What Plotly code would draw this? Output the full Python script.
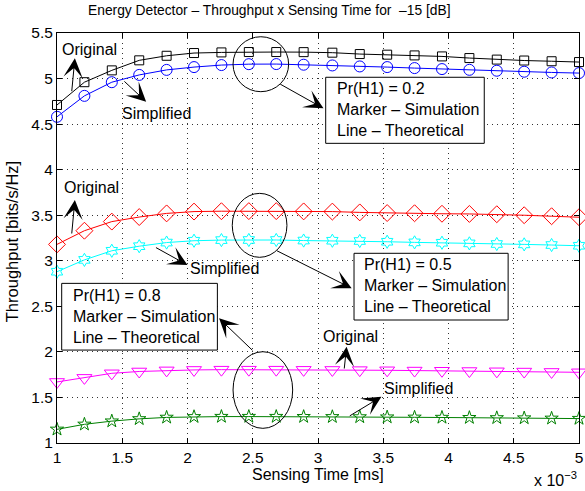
import plotly.graph_objects as go

# ---------------- data ----------------
sensing_time = [0.00100, 0.00121, 0.00142, 0.00163, 0.00184, 0.00205, 0.00226, 0.00247, 0.00268, 0.00289,
                0.00311, 0.00332, 0.00353, 0.00374, 0.00395, 0.00416, 0.00437, 0.00458, 0.00479, 0.00500]

orig_02 = [4.71, 4.96, 5.09, 5.20, 5.25, 5.28, 5.287, 5.291, 5.291, 5.290,
           5.284, 5.269, 5.262, 5.254, 5.243, 5.225, 5.208, 5.198, 5.190, 5.181]
simp_02 = [4.58, 4.81, 4.96, 5.04, 5.095, 5.126, 5.148, 5.158, 5.159, 5.152,
           5.144, 5.133, 5.126, 5.115, 5.104, 5.096, 5.086, 5.075, 5.067, 5.060]
orig_05 = [3.18, 3.33, 3.43, 3.48, 3.52, 3.54, 3.544, 3.545, 3.545, 3.542,
           3.540, 3.531, 3.524, 3.522, 3.516, 3.514, 3.511, 3.500, 3.489, 3.478]
simp_05 = [2.88, 3.01, 3.11, 3.16, 3.20, 3.22, 3.227, 3.228, 3.228, 3.222,
           3.220, 3.217, 3.209, 3.202, 3.198, 3.191, 3.184, 3.180, 3.173, 3.165]
orig_08 = [1.67, 1.715, 1.765, 1.785, 1.797, 1.802, 1.805, 1.805, 1.805, 1.803,
           1.802, 1.800, 1.798, 1.795, 1.793, 1.790, 1.787, 1.784, 1.780, 1.776]
simp_08 = [1.15, 1.205, 1.24, 1.265, 1.281, 1.288, 1.290, 1.290, 1.290, 1.289,
           1.288, 1.286, 1.284, 1.282, 1.280, 1.278, 1.276, 1.274, 1.271, 1.268]

x_tickvals = [0.001, 0.0015, 0.002, 0.0025, 0.003, 0.0035, 0.004, 0.0045, 0.005]
x_ticktext = ["1", "1.5", "2", "2.5", "3", "3.5", "4", "4.5", "5"]
y_tickvals = [1, 1.5, 2, 2.5, 3, 3.5, 4, 4.5, 5, 5.5]
y_ticktext = ["1", "1.5", "2", "2.5", "3", "3.5", "4", "4.5", "5", "5.5"]

series = [
    (orig_02, "#000000", "square-open", 9),
    (simp_02, "#0000ff", "circle-open", 11),
    (orig_05, "#ff0000", "diamond-open", 13),
    (simp_05, "#00ffff", "hexagram-open", 10),
    (orig_08, "#ff00ff", "triangle-down-open", 13),
    (simp_08, "#008000", "star-open", 10),
]

FONT = "Liberation Sans, Arial, Helvetica, sans-serif"

fig = go.Figure()
for ys, col, sym, sz in series:
    fig.add_trace(go.Scatter(
        x=sensing_time, y=ys, mode="lines+markers",
        line=dict(color=col, width=1),
        marker=dict(symbol=sym, size=sz, color=col, line=dict(color=col, width=1)),
        cliponaxis=False, showlegend=False,
    ))

ms = 1e-3
shapes = []
# circles
for (x0, x1, y0, y1) in [(2.349, 2.775, 4.856, 5.459), (2.343, 2.762, 3.038, 3.74), (2.349, 2.806, 1.161, 2.002)]:
    shapes.append(dict(type="circle", xref="x", yref="y", x0=x0 * ms, x1=x1 * ms, y0=y0, y1=y1,
                       line=dict(color="black", width=1)))
# boxes
for (x0, x1, y0, y1) in [(3.059, 4.274, 4.289, 5.014), (3.276, 4.457, 2.35, 3.082), (1.036, 2.229, 2.02, 2.752)]:
    shapes.append(dict(type="rect", xref="x", yref="y", x0=x0 * ms, x1=x1 * ms, y0=y0, y1=y1,
                       line=dict(color="black", width=1), fillcolor="white", layer="above"))

annotations = []
# arrows (tail -> head)
arrows = [((1.112, 4.845), (1.137, 5.222)),
          ((1.505, 4.984), (1.683, 4.746)),
          ((2.699, 4.948), (3.042, 4.673)),
          ((1.112, 3.283), (1.137, 3.667)),
          ((1.747, 3.154), (2.0, 2.953)),
          ((2.674, 3.118), (3.258, 2.698)),
          ((2.509, 2.002), (2.242, 2.368)),
          ((3.2, 1.801), (3.219, 2.056)),
          ((3.232, 1.288), (3.486, 1.508))]
for (tx, ty), (hx, hy) in arrows:
    annotations.append(dict(x=hx * ms, y=hy, ax=tx * ms, ay=ty, xref="x", yref="y", axref="x", ayref="y",
                            text="", showarrow=True, arrowhead=3, arrowsize=3.2, arrowwidth=1,
                            arrowcolor="black", standoff=0, startstandoff=0))

labels = [("Original", 1.251, 5.324), ("Simplified", 1.762, 4.622),
          ("Original", 1.267, 3.799), ("Simplified", 2.28, 2.92),
          ("Original", 3.251, 2.166), ("Simplified", 3.77, 1.603)]
for t, x, y in labels:
    annotations.append(dict(x=x * ms, y=y, xref="x", yref="y", text=t, showarrow=False,
                            font=dict(family=FONT, size=16, color="black"),
                            xanchor="center", yanchor="middle"))

box_text = [("0.2", 3.131, 4.655), ("0.5", 3.339, 2.734), ("0.8", 1.104, 2.386)]
for p, x, y in box_text:
    annotations.append(dict(x=x * ms, y=y, xref="x", yref="y",
                            text="Pr(H1) = %s<br>Marker \u2013 Simulation<br>Line \u2013 Theoretical" % p,
                            showarrow=False, align="left", xanchor="left", yanchor="middle",
                            font=dict(family=FONT, size=16, color="black")))

# title and axis labels
annotations.append(dict(x=0.408, y=1.056, xref="paper", yref="paper",
                        text="Energy Detector \u2013 Throughput x Sensing Time for \u00a0\u201315 [dB]",
                        showarrow=False, xanchor="center", yanchor="middle",
                        font=dict(family=FONT, size=13.8, color="black")))
annotations.append(dict(x=0.5, y=-0.078, xref="paper", yref="paper", text="Sensing Time [ms]",
                        showarrow=False, xanchor="center", yanchor="middle",
                        font=dict(family=FONT, size=16, color="black")))
annotations.append(dict(x=-0.086, y=0.49, xref="paper", yref="paper", text="Throughput [bits/s/Hz]",
                        showarrow=False, xanchor="center", yanchor="middle", textangle=-90,
                        font=dict(family=FONT, size=16.5, color="black")))
annotations.append(dict(x=1.0, y=-0.117, xref="paper", yref="paper", text="x 10<sup>\u22123</sup>",
                        showarrow=False, xanchor="right", yanchor="bottom",
                        font=dict(family=FONT, size=16, color="black")))

axis_common = dict(showline=True, linecolor="black", linewidth=1, mirror="allticks",
                   ticks="inside", ticklen=5, tickcolor="black", tickwidth=1,
                   showgrid=True, gridcolor="#333333", gridwidth=1, griddash="1px,4px",
                   zeroline=False, ticklabeloverflow="allow",
                   tickfont=dict(family=FONT, size=15.5, color="black"))

fig.update_layout(
    width=585, height=491,
    margin=dict(l=57, r=2, t=33, b=48),
    paper_bgcolor="white", plot_bgcolor="white",
    xaxis=dict(range=[0.001, 0.005], tickvals=x_tickvals, ticktext=x_ticktext, **axis_common),
    yaxis=dict(range=[1, 5.5], tickvals=y_tickvals, ticktext=y_ticktext, **axis_common),
    shapes=shapes, annotations=annotations, showlegend=False,
)

fig.write_html("out.html", config={"displayModeBar": False},
               post_script="document.body.style.margin='0';document.body.style.overflow='hidden';")
